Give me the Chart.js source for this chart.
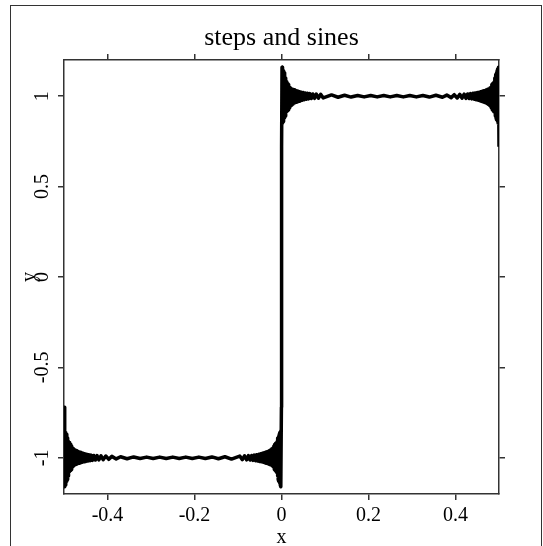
<!DOCTYPE html>
<html>
<head>
<meta charset="utf-8">
<script src="https://cdn.jsdelivr.net/npm/chart.js@4/dist/chart.umd.min.js"></script>
<style>
  html, body { margin: 0; padding: 0; background: #fff; overflow: hidden; }
  #wrap { position: relative; width: 543px; height: 546px; }
  #frame { position: absolute; left: 10px; top: 5px; width: 532px; height: 600px;
           border: 1.5px solid #333; box-sizing: border-box; }
  canvas { position: absolute; left: 0; top: 0; }
</style>
</head>
<body>
<div id="wrap">
  <div id="frame"></div>
  <canvas id="c" width="543" height="546"></canvas>
</div>
<script>
// Text
const TITLE = 'steps and sines';
const X_LABEL = 'x';
const Y_LABEL = 'y';

// Axis ticks
const xTicks = [-0.4, -0.2, 0, 0.2, 0.4];
const xTickLabels = ['-0.4', '-0.2', '0', '0.2', '0.4'];
const yTicks = [-1, -0.5, 0, 0.5, 1];
const yTickLabels = ['-1', '-0.5', '0', '0.5', '1'];

// Partial Fourier sum of the square wave, sampled piece by piece.
// Ringing after the jump at x = -0.5
const edgeLeftX = [
  -0.5, -0.4988, -0.498, -0.4972, -0.4964, -0.4956, -0.4948, -0.494, -0.4932, -0.4924,
  -0.4916, -0.4908, -0.49, -0.4892, -0.4883, -0.4874, -0.4865, -0.4855, -0.4845, -0.4835,
  -0.4824, -0.4813, -0.4802, -0.479, -0.4778, -0.4765, -0.4752, -0.4738, -0.4724, -0.471,
  -0.4695, -0.468, -0.4664, -0.4648, -0.4631, -0.4614, -0.4596, -0.4578, -0.4559, -0.454,
  -0.452, -0.45, -0.4478, -0.4455, -0.443, -0.4404, -0.4376, -0.4346, -0.4314, -0.428,
  -0.424, -0.42, -0.415, -0.41, -0.404];
const edgeLeftY = [
  -0.72, -1.16, -0.85, -1.15, -0.86, -1.14, -0.87, -1.13, -0.88, -1.12,
  -0.89, -1.10, -0.91, -1.08, -0.915, -1.075, -0.92, -1.07, -0.925, -1.065,
  -0.935, -1.05, -0.945, -1.045, -0.95, -1.04, -0.955, -1.038, -0.96, -1.035,
  -0.963, -1.032, -0.966, -1.03, -0.969, -1.027, -0.972, -1.024, -0.975, -1.022,
  -0.978, -1.02, -0.98, -1.018, -0.983, -1.016, -0.985, -1.014, -0.987, -1.012,
  -0.988, -1.011, -0.989, -1.01, -0.99];

// Flat stretch at -1
const flatLeftX = [
  -0.397, -0.39, -0.38, -0.37, -0.355, -0.34, -0.325, -0.31, -0.295, -0.28,
  -0.265, -0.25, -0.235, -0.22, -0.205, -0.19, -0.175, -0.16, -0.145, -0.13,
  -0.115];
const flatLeftY = [
  -1.008, -0.992, -1.006, -0.994, -1.005, -0.995, -1.004, -0.996, -1.004, -0.996,
  -1.004, -0.996, -1.004, -0.996, -1.004, -0.996, -1.004, -0.995, -1.005, -0.994,
  -1.007];

// Ringing before the jump at x = 0
const preJumpX = [
  -0.096, -0.09, -0.085, -0.08, -0.076, -0.072, -0.0686, -0.0654, -0.0624, -0.0596,
  -0.057, -0.0545, -0.0522, -0.05, -0.048, -0.046, -0.0441, -0.0422, -0.0404, -0.0386,
  -0.0369, -0.0352, -0.0336, -0.032, -0.0305, -0.029, -0.0276, -0.0262, -0.0248, -0.0235,
  -0.0222, -0.021, -0.0198, -0.0187, -0.0176, -0.0165, -0.0155, -0.0145, -0.0135, -0.0126,
  -0.0117, -0.0108, -0.01, -0.0092, -0.0084, -0.0076, -0.0068, -0.006, -0.0052, -0.0044,
  -0.0036, -0.0028, -0.002, -0.0012, -0.0002];
const preJumpY = [
  -0.99, -1.01, -0.989, -1.011, -0.988, -1.012, -0.987, -1.014, -0.985, -1.016,
  -0.983, -1.018, -0.98, -1.02, -0.978, -1.022, -0.975, -1.024, -0.972, -1.027,
  -0.969, -1.03, -0.966, -1.032, -0.963, -1.035, -0.96, -1.038, -0.955, -1.04,
  -0.95, -1.045, -0.945, -1.05, -0.935, -1.065, -0.925, -1.07, -0.92, -1.075,
  -0.915, -1.08, -0.91, -1.10, -0.89, -1.12, -0.88, -1.13, -0.87, -1.14,
  -0.86, -1.15, -0.85, -1.16, -0.72];

// Ringing after the jump at x = 0
const postJumpX = [
  0.0002, 0.0012, 0.002, 0.0028, 0.0036, 0.0044, 0.0052, 0.006, 0.0068, 0.0076,
  0.0084, 0.0092, 0.01, 0.0108, 0.0117, 0.0126, 0.0135, 0.0145, 0.0155, 0.0165,
  0.0176, 0.0187, 0.0198, 0.021, 0.0222, 0.0235, 0.0248, 0.0262, 0.0276, 0.029,
  0.0305, 0.032, 0.0336, 0.0352, 0.0369, 0.0386, 0.0404, 0.0422, 0.0441, 0.046,
  0.048, 0.05, 0.0522, 0.0545, 0.057, 0.0596, 0.0624, 0.0654, 0.0686, 0.072,
  0.076, 0.08, 0.085, 0.09, 0.096];
const postJumpY = [
  0.72, 1.16, 0.85, 1.15, 0.86, 1.14, 0.87, 1.13, 0.88, 1.12,
  0.89, 1.10, 0.91, 1.08, 0.915, 1.075, 0.92, 1.07, 0.925, 1.065,
  0.935, 1.05, 0.945, 1.045, 0.95, 1.04, 0.955, 1.038, 0.96, 1.035,
  0.963, 1.032, 0.966, 1.03, 0.969, 1.027, 0.972, 1.024, 0.975, 1.022,
  0.978, 1.02, 0.98, 1.018, 0.983, 1.016, 0.985, 1.014, 0.987, 1.012,
  0.988, 1.011, 0.989, 1.01, 0.99];

// Flat stretch at +1
const flatRightX = [
  0.115, 0.13, 0.145, 0.16, 0.175, 0.19, 0.205, 0.22, 0.235, 0.25,
  0.265, 0.28, 0.295, 0.31, 0.325, 0.34, 0.355, 0.37, 0.38, 0.39,
  0.397];
const flatRightY = [
  1.007, 0.994, 1.005, 0.995, 1.004, 0.996, 1.004, 0.996, 1.004, 0.996,
  1.004, 0.996, 1.004, 0.996, 1.004, 0.995, 1.005, 0.994, 1.006, 0.992,
  1.008];

// Ringing before the jump at x = 0.5
const edgeRightX = [
  0.404, 0.41, 0.415, 0.42, 0.424, 0.428, 0.4314, 0.4346, 0.4376, 0.4404,
  0.443, 0.4455, 0.4478, 0.45, 0.452, 0.454, 0.4559, 0.4578, 0.4596, 0.4614,
  0.4631, 0.4648, 0.4664, 0.468, 0.4695, 0.471, 0.4724, 0.4738, 0.4752, 0.4765,
  0.4778, 0.479, 0.4802, 0.4813, 0.4824, 0.4835, 0.4845, 0.4855, 0.4865, 0.4874,
  0.4883, 0.4892, 0.49, 0.4908, 0.4916, 0.4924, 0.4932, 0.494, 0.4948, 0.4956,
  0.4964, 0.4972, 0.498, 0.4988, 0.5];
const edgeRightY = [
  0.99, 1.01, 0.989, 1.011, 0.988, 1.012, 0.987, 1.014, 0.985, 1.016,
  0.983, 1.018, 0.98, 1.02, 0.978, 1.022, 0.975, 1.024, 0.972, 1.027,
  0.969, 1.03, 0.966, 1.032, 0.963, 1.035, 0.96, 1.038, 0.955, 1.04,
  0.95, 1.045, 0.945, 1.05, 0.935, 1.065, 0.925, 1.07, 0.92, 1.075,
  0.915, 1.08, 0.91, 1.10, 0.89, 1.12, 0.88, 1.13, 0.87, 1.14,
  0.86, 1.15, 0.85, 1.16, 0.72];

const pieces = [
  [edgeLeftX, edgeLeftY], [flatLeftX, flatLeftY], [preJumpX, preJumpY],
  [postJumpX, postJumpY], [flatRightX, flatRightY], [edgeRightX, edgeRightY]
];
const points = pieces.flatMap(([xs, ys]) => xs.map((x, i) => ({ x, y: ys[i] })));

const FONT = '"Liberation Serif", "Times New Roman", serif';
const AXIS_COLOR = '#333';

const grid = { drawOnChartArea: false, drawTicks: true, tickLength: 6,
               color: AXIS_COLOR, lineWidth: 1.5 };
const border = { display: true, color: AXIS_COLOR, width: 1.5 };
const setTicks = vals => scale => { scale.ticks = vals.map(v => ({ value: v })); };

// Title, rotated y tick labels and axis names
const textPlugin = {
  id: 'axisText',
  afterDraw(chart) {
    const { ctx, chartArea: ca } = chart;
    const ys = chart.scales.y;
    ctx.save();
    ctx.fillStyle = '#000';
    ctx.textAlign = 'center';
    ctx.textBaseline = 'alphabetic';
    ctx.font = '26px ' + FONT;
    ctx.fillText(TITLE, (ca.left + ca.right) / 2, ca.top - 15);

    ctx.font = '20px ' + FONT;
    ctx.fillText(X_LABEL, (ca.left + ca.right) / 2, ca.bottom + 49);

    yTicks.forEach((v, i) => {
      ctx.save();
      ctx.translate(ca.left - 16, ys.getPixelForValue(v));
      ctx.rotate(-Math.PI / 2);
      ctx.fillText(yTickLabels[i], 0, 0);
      ctx.restore();
    });

    ctx.save();
    ctx.translate(ca.left - 29, (ca.top + ca.bottom) / 2);
    ctx.rotate(-Math.PI / 2);
    ctx.fillText(Y_LABEL, 0, 0);
    ctx.restore();
    ctx.restore();
  }
};

new Chart(document.getElementById('c'), {
  type: 'scatter',
  data: {
    datasets: [{
      data: points,
      showLine: true,
      borderColor: '#000',
      borderWidth: 3.5,
      borderJoinStyle: 'round',
      pointRadius: 0,
      pointHoverRadius: 0,
      fill: false,
      tension: 0
    }]
  },
  options: {
    responsive: false,
    animation: false,
    devicePixelRatio: 1,
    layout: { padding: 0 },
    plugins: { legend: { display: false }, tooltip: { enabled: false } },
    events: [],
    scales: {
      x: {
        type: 'linear', position: 'bottom', min: -0.5, max: 0.5,
        afterBuildTicks: setTicks(xTicks),
        afterFit: s => { s.height = 52; },
        ticks: { color: '#000', font: { family: FONT, size: 20 }, padding: 4,
                 maxRotation: 0, autoSkip: false,
                 callback: (v, i) => xTickLabels[i] },
        grid, border
      },
      xTop: {
        axis: 'x', type: 'linear', position: 'top', min: -0.5, max: 0.5,
        afterBuildTicks: setTicks(xTicks),
        afterFit: s => { s.height = 60; },
        ticks: { display: false },
        grid, border
      },
      y: {
        type: 'linear', position: 'left', min: -1.2, max: 1.2,
        afterBuildTicks: setTicks(yTicks),
        afterFit: s => { s.width = 64; },
        ticks: { display: false },
        grid, border
      },
      yRight: {
        axis: 'y', type: 'linear', position: 'right', min: -1.2, max: 1.2,
        afterBuildTicks: setTicks(yTicks),
        afterFit: s => { s.width = 44; },
        ticks: { display: false },
        grid, border
      }
    }
  },
  plugins: [textPlugin]
});
</script>
</body>
</html>
